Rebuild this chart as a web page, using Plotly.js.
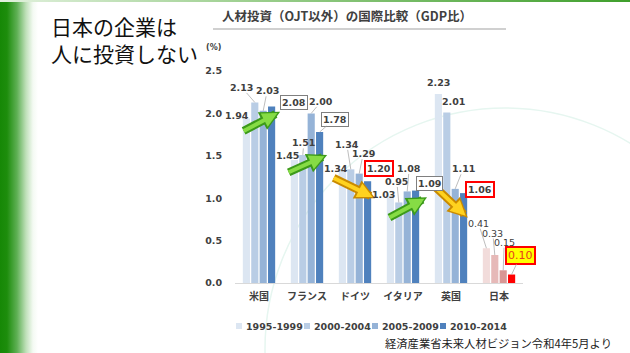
<!DOCTYPE html>
<html>
<head>
<meta charset="utf-8">
<script src="https://cdn.plot.ly/plotly-3.0.1.min.js"></script>
<style>
html,body{margin:0;padding:0;width:630px;height:353px;overflow:hidden;}
body{background:linear-gradient(to right,#168806 0px,#1d8d0c 7px,#5fb055 17px,#bfe0b9 26px,#f4faf3 33px,#ffffff 38px);}
#topline{position:absolute;left:0;top:0;width:630px;height:2px;background:linear-gradient(to right,#e2f1de 0px,#9ccf8e 250px,#3f9f2c 630px);}
#chart{position:absolute;left:0;top:0;width:630px;height:353px;}
</style>
</head>
<body>
<div id="topline"></div>
<div id="chart"></div>
<script>
// ---- data ----
const categories = ['米国', 'フランス', 'ドイツ', 'イタリア', '英国', '日本'];
const periods = ['1995-1999', '2000-2004', '2005-2009', '2010-2014'];
const v1995_1999 = [1.94, 1.45, 1.34, 1.03, 2.23, 0.41];
const v2000_2004 = [2.13, 1.51, 1.34, 0.95, 2.01, 0.33];
const v2005_2009 = [2.03, 2.00, 1.29, 1.08, 1.11, 0.15];
const v2010_2014 = [2.08, 1.78, 1.20, 1.09, 1.06, 0.10];
const yTickVals = [0, 0.5, 1.0, 1.5, 2.0, 2.5];
const yTickText = ['0.0', '0.5', '1.0', '1.5', '2.0', '2.5'];
const chartTitle = '人材投資（OJT以外）の国際比較（GDP比）';
const headlineLines = ['日本の企業は', '人に投資しない'];
const unitLabel = '(%)';
const sourceNote = '経済産業省未来人材ビジョン令和4年5月より';

// ---- styles ----
const seriesValues = [v1995_1999, v2000_2004, v2005_2009, v2010_2014];
const seriesColors = ['#dce6f2', '#b9cde5', '#95b3d7', '#4f81bd'];
const japanColors = ['#f2dcdb', '#e6b9b8', '#d99694', '#ff0000'];
const BARGAP = 0.3;
// label offsets [dx, dy] in px from bar top; rows = series, cols = category
const labelOffsets = [
  [[-9, -3], [-7, -5], [-6, -1], [-7, -1], [0, -11], [-8, -25]],
  [[-13, -15], [1, -12], [-4, -25], [-2, -21], [7, -11], [-2, -22]],
  [[4, -20], [10, -12], [4, -20], [2, -23], [8, -20], [1, -28]],
  [[22, -4], [15, -13], [11, -13], [14, -7], [16, -4], [9, -19]]
];
const leaderLines = [
  [false, false, false, false, false, true],
  [true, true, true, true, false, true],
  [true, true, true, true, true, true],
  [false, true, false, false, false, true]
];
const boxStyles = {
  '3-0': {bordercolor: '#7f7f7f', borderwidth: 1},
  '3-1': {bordercolor: '#7f7f7f', borderwidth: 1},
  '3-2': {bordercolor: '#ff0000', borderwidth: 2},
  '3-3': {bordercolor: '#7f7f7f', borderwidth: 1},
  '3-4': {bordercolor: '#ff0000', borderwidth: 2},
  '3-5': {bordercolor: '#ff0000', borderwidth: 2, bgcolor: '#ffff00', fontcolor: '#e8401a', size: 11, weight: 'normal'}
};
// trend arrows: head at [categoryIndex + frac, y], tail offset [ax, ay] px
const trendArrows = [
  {x: 0.44, y: 2.02, ax: -38, ay: 20, c: 'g'},
  {x: 1.42, y: 1.51, ax: -40, ay: 18, c: 'g'},
  {x: 2.42, y: 1.00, ax: -43, ay: -21, c: 'y'},
  {x: 3.50, y: 1.01, ax: -39, ay: 21, c: 'g'},
  {x: 4.35, y: 0.77, ax: -33, ay: -31, c: 'y'}
];
const arrowPalette = {g: ['#3c9a1a', '#86dc45'], y: ['#c98a00', '#ffd21f']};

const numFont = 'DejaVu Sans, Verdana, sans-serif';
const jpFont = 'Noto Sans CJK JP, sans-serif';

const traces = seriesValues.map((vals, s) => ({
  type: 'bar',
  name: periods[s],
  x: categories,
  y: vals,
  marker: {color: categories.map((c, i) => i === categories.length - 1 ? japanColors[s] : seriesColors[s])},
  showlegend: false,
  hoverinfo: 'x+y+name'
}));

const annotations = [];
// trend arrows
trendArrows.forEach(a => {
  const pal = arrowPalette[a.c];
  annotations.push({xref: 'x', yref: 'y', x: a.x, y: a.y, ax: a.ax, ay: a.ay, text: '', showarrow: true,
    arrowhead: 2, arrowwidth: 8, arrowsize: 0.5, arrowcolor: pal[0], standoff: 0});
  annotations.push({xref: 'x', yref: 'y', x: a.x, y: a.y, ax: a.ax, ay: a.ay, text: '', showarrow: true,
    arrowhead: 2, arrowwidth: 4, arrowsize: 0.75, arrowcolor: pal[1], standoff: 3});
});
// value labels
seriesValues.forEach((vals, s) => {
  vals.forEach((v, c) => {
    const off = labelOffsets[s][c];
    const bx = boxStyles[s + '-' + c] || {};
    const isJapan = c === categories.length - 1;
    const ann = {
      xref: 'x', yref: 'y',
      x: c + (s - 1.5) * (1 - BARGAP) / 4,
      y: v,
      text: v.toFixed(2),
      font: {family: numFont, size: bx.size || 9.5, color: bx.fontcolor || '#404040',
             weight: bx.weight || (isJapan && s < 3 ? 'normal' : 'bold')},
      bgcolor: bx.bgcolor || (bx.bordercolor ? '#ffffff' : 'rgba(0,0,0,0)'),
      bordercolor: bx.bordercolor || 'rgba(0,0,0,0)',
      borderwidth: bx.borderwidth || 0,
      borderpad: bx.bordercolor ? 1 : 0
    };
    if (leaderLines[s][c]) {
      Object.assign(ann, {showarrow: true, ax: off[0], ay: off[1], arrowhead: 0, arrowwidth: 0.7,
        arrowcolor: '#a0a0a0', standoff: 0});
    } else {
      Object.assign(ann, {showarrow: false, xshift: off[0], yshift: -off[1]});
    }
    annotations.push(ann);
  });
});
// pixel->paper helpers (plot area: x 235..523, y 71..283)
const PL = 235, PW = 288, PB = 283, PH = 212;
const px = v => (v - PL) / PW;
const py = v => (PB - v) / PH;
// headline, unit, source
annotations.push({xref: 'paper', yref: 'paper', x: px(49), y: py(39), xanchor: 'left', yanchor: 'middle', showarrow: false,
  align: 'left', text: headlineLines.join('<br>'), font: {family: jpFont, size: 21, color: '#111111'}});
annotations.push({xref: 'paper', yref: 'paper', x: px(213), y: py(47), xanchor: 'center', yanchor: 'middle', showarrow: false,
  text: unitLabel, font: {family: numFont, size: 8, color: '#404040', weight: 'bold'}});
annotations.push({xref: 'paper', yref: 'paper', x: px(614), y: py(343), xanchor: 'right', yanchor: 'middle', showarrow: false,
  text: sourceNote, font: {family: jpFont, size: 11.3, color: '#222222'}});

// legend (squares + labels)
const legendX = [236, 304, 372, 440];
const shapes = [];
periods.forEach((p, i) => {
  shapes.push({type: 'rect', xref: 'paper', yref: 'paper', x0: px(legendX[i]), x1: px(legendX[i] + 6),
    y0: py(329), y1: py(323), fillcolor: seriesColors[i], line: {width: 0}});
  annotations.push({xref: 'paper', yref: 'paper', x: px(legendX[i] + 8), y: py(326), xanchor: 'left', yanchor: 'middle',
    showarrow: false, text: p, font: {family: numFont, size: 9.5, color: '#404040', weight: 'bold'}});
});
// title underline
shapes.push({type: 'line', xref: 'paper', yref: 'paper', x0: px(213), x1: px(506), y0: py(29), y1: py(29),
  line: {color: '#c0c0c0', width: 1.5}});
// faint watermark arc
shapes.push({type: 'circle', xref: 'paper', yref: 'paper', layer: 'below', x0: px(265), x1: px(745), y0: py(590), y1: py(108),
  line: {color: '#e6f6f0', width: 1.5}});

const layout = {
  width: 630, height: 353, autosize: false,
  margin: {l: 235, r: 107, t: 71, b: 70, pad: 0},
  paper_bgcolor: 'rgba(0,0,0,0)', plot_bgcolor: 'rgba(0,0,0,0)',
  barmode: 'group', bargap: BARGAP, bargroupgap: 0.15,
  showlegend: false,
  title: {text: '<b>' + chartTitle + '</b>', font: {family: jpFont, size: 12.5, color: '#404040'},
    xref: 'container', yref: 'container', x: 222 / 630, xanchor: 'left', y: 1 - 17 / 353, yanchor: 'middle'},
  xaxis: {type: 'category', range: [-0.5, 5.5], showline: true, linecolor: '#d9d9d9', linewidth: 1,
    ticks: '', showgrid: false, zeroline: false, fixedrange: true, ticklabelstandoff: 4,
    tickfont: {family: jpFont, size: 10, color: '#404040', weight: 'bold'}},
  yaxis: {range: [0, 2.5], tickvals: yTickVals, ticktext: yTickText, showgrid: false, zeroline: false,
    showline: false, ticks: '', fixedrange: true, ticklabelstandoff: 12,
    tickfont: {family: numFont, size: 9.5, color: '#404040', weight: 'bold'}},
  annotations: annotations,
  shapes: shapes
};

Plotly.newPlot('chart', traces, layout, {staticPlot: true, displayModeBar: false});
</script>
</body>
</html>
